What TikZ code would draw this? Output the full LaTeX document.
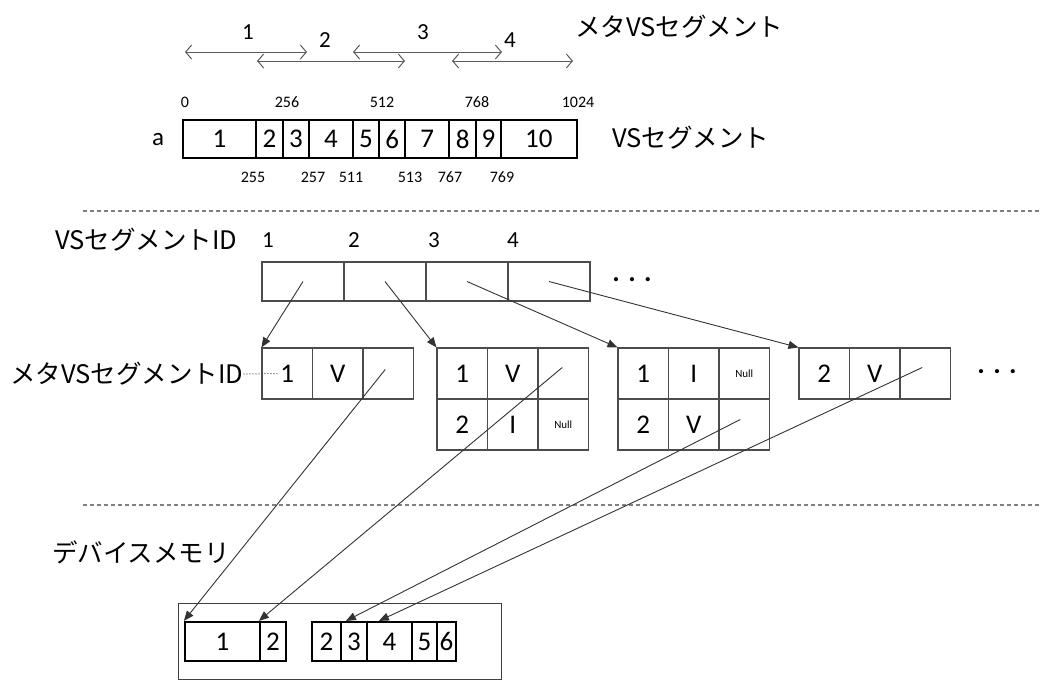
\documentclass[tikz,border=0pt]{standalone}
\usepackage{fontspec}
\setmainfont{Carlito}
\newfontfamily\jp{Noto Sans CJK JP}
\usetikzlibrary{arrows.meta}
\tikzset{
  jlabel/.style={font=\jp\fontsize{25.5}{25.5}\selectfont, inner sep=0pt},
  barcell/.style={draw=black, line width=2.2pt, minimum height=38pt, inner sep=0pt, font=\fontsize{27}{27}\selectfont},
  idcell/.style={draw=black!70, line width=1.1pt, minimum width=82pt, minimum height=39pt, inner sep=0pt},
  metacell/.style={draw=black!70, line width=1.1pt, minimum width=50.5pt, minimum height=51pt, inner sep=0pt, font=\fontsize{27}{27}\selectfont},
  nullcell/.style={metacell, font=\fontsize{11}{11}\selectfont},
  devcell/.style={draw=black, line width=2.2pt, minimum height=39pt, inner sep=0pt, font=\fontsize{27}{27}\selectfont},
  ptr/.style={draw=black!80, line width=0.9pt, -{Triangle[length=10pt,width=8pt]}},
  spanarrow/.style={draw=black!65, line width=1pt, {Straight Barb[length=6pt,width=14pt]}-{Straight Barb[length=6pt,width=14pt]}},
  sep/.style={draw=black!50, line width=1.3pt, dash pattern=on 4pt off 3pt},
  smallnum/.style={font=\fontsize{16}{16}\selectfont, inner sep=0pt},
  spanlabel/.style={font=\fontsize{23}{23}\selectfont, inner sep=0pt},
  dots/.style={font=\bfseries\fontsize{28}{28}\selectfont, inner sep=0pt},
}
\begin{document}
\begin{tikzpicture}[x=1pt,y=-1pt]
\useasboundingbox (0,0) rectangle (1041,686);

% ---- meta VS segment spans
\coordinate (m1a) at (185,52);  \coordinate (m1b) at (307,52);
\coordinate (m2a) at (257,61);  \coordinate (m2b) at (405,61);
\coordinate (m3a) at (353,52);  \coordinate (m3b) at (502,52);
\coordinate (m4a) at (452,61);  \coordinate (m4b) at (573,61);
\draw[spanarrow] (m1a) -- (m1b);
\draw[spanarrow] (m2a) -- (m2b);
\draw[spanarrow] (m3a) -- (m3b);
\draw[spanarrow] (m4a) -- (m4b);
\node[spanlabel] (ml1) at (248,32) {1};
\node[spanlabel] (ml2) at (325,40) {2};
\node[spanlabel] (ml3) at (423,32) {3};
\node[spanlabel] (ml4) at (510,40) {4};
\node[jlabel, anchor=west] (metatitle) at (575,27) {メタVSセグメント};

% ---- VS segment bar
\node[font=\fontsize{25}{25}\selectfont, inner sep=0pt] (alabel) at (158,140) {a};
\foreach \a/\b/\t [count=\i] in {183/256/1,256/282.7/2,282.7/309.3/3,309.3/352.7/4,352.7/379.3/5,379.3/405/6,405/449.3/7,449.3/476/8,476/500.7/9,500.7/577/10}{
  \pgfmathsetmacro\w{\b-\a}
  \pgfmathsetmacro\c{(\a+\b)/2}
  \node[barcell, minimum width=\w pt] (s\i) at (\c,139) {\t};
}
\node[jlabel, anchor=west] (vstitle) at (612,138) {VSセグメント};
\node[smallnum] (t0) at (185,102) {0};
\node[smallnum] (t256) at (287,102) {256};
\node[smallnum] (t512) at (382,102) {512};
\node[smallnum] (t768) at (477,102) {768};
\node[smallnum] (t1024) at (578,102) {1024};
\node[smallnum] (b255) at (253,177) {255};
\node[smallnum] (b257) at (313,177) {257};
\node[smallnum] (b511) at (351,177) {511};
\node[smallnum] (b513) at (410,177) {513};
\node[smallnum] (b767) at (450,177) {767};
\node[smallnum] (b769) at (502,177) {769};

% ---- separators
\draw[sep] (83,211) -- (1041,211);
\draw[sep] (83,505) -- (1041,505);

% ---- VS segment ID table
\node[jlabel, anchor=west] (idtitle) at (55,240) {VSセグメントID};
\node[spanlabel] (il1) at (268,240) {1};
\node[spanlabel] (il2) at (354,240) {2};
\node[spanlabel] (il3) at (434,240) {3};
\node[spanlabel] (il4) at (513,240) {4};
\node[idcell] (id1) at (303,281.5) {};
\node[idcell] (id2) at (385,281.5) {};
\node[idcell] (id3) at (467,281.5) {};
\node[idcell] (id4) at (549,281.5) {};
\node[dots] (iddots) at (632,280) {. . .};

% ---- meta VS segment ID tables
\node[jlabel, anchor=west] (metaidtitle) at (10,374) {メタVSセグメントID};
\node[metacell] (a1) at (287.25,373.5) {1};
\node[metacell] (a2) at (337.75,373.5) {V};
\node[metacell] (a3) at (388.25,373.5) {};
\draw[black!70, line width=1pt, dotted] (metaidtitle.east) -- ([xshift=-10pt]a1.center);

\node[metacell] (b11) at (462.25,373.5) {1};
\node[metacell] (b12) at (512.75,373.5) {V};
\node[metacell] (b13) at (563.25,373.5) {};
\node[metacell] (b21) at (462.25,424.5) {2};
\node[metacell] (b22) at (512.75,424.5) {I};
\node[nullcell] (b23) at (563.25,424.5) {Null};

\node[metacell] (c11) at (643.25,373.5) {1};
\node[metacell] (c12) at (693.75,373.5) {I};
\node[nullcell] (c13) at (744.25,373.5) {Null};
\node[metacell] (c21) at (643.25,424.5) {2};
\node[metacell] (c22) at (693.75,424.5) {V};
\node[metacell] (c23) at (744.25,424.5) {};

\node[metacell] (d11) at (824.25,373.5) {2};
\node[metacell] (d12) at (874.75,373.5) {V};
\node[metacell] (d13) at (925.25,373.5) {};
\node[dots] (metadots) at (997,372) {. . .};

\draw[ptr] (id1.center) -- (a1.north west);
\draw[ptr] (id2.center) -- (b11.north west);
\draw[ptr] (id3.center) -- (c11.north west);
\draw[ptr] (id4.center) -- (d11.north west);

% ---- device memory
\node[jlabel, anchor=west] (devtitle) at (52,552) {デバイスメモリ};
\node[draw=black!75, line width=1pt, minimum width=323pt, minimum height=76pt, inner sep=0pt] (dev) at (339.5,641) {};
\node[devcell, minimum width=75pt] (p1) at (222.5,641.5) {1};
\node[devcell, minimum width=26pt] (p2) at (273,641.5) {2};
\node[devcell, minimum width=29pt] (q1) at (326.5,641.5) {2};
\node[devcell, minimum width=26pt] (q2) at (354,641.5) {3};
\node[devcell, minimum width=45pt] (q3) at (389.5,641.5) {4};
\node[devcell, minimum width=25pt] (q4) at (424.5,641.5) {5};
\node[devcell, minimum width=19pt] (q5) at (446.5,641.5) {6};

\draw[ptr] ([shift={(-3pt,4pt)}]a3.center) -- (p1.north west);
\draw[ptr] ([shift={(-1pt,6pt)}]b13.center) -- (p2.north west);
\draw[ptr] ([shift={(-4pt,5pt)}]c23.center) -- ([xshift=6pt]q2.north west);
\draw[ptr] ([shift={(-3pt,6pt)}]d13.center) -- ([xshift=13pt]q3.north west);
\end{tikzpicture}
\end{document}
